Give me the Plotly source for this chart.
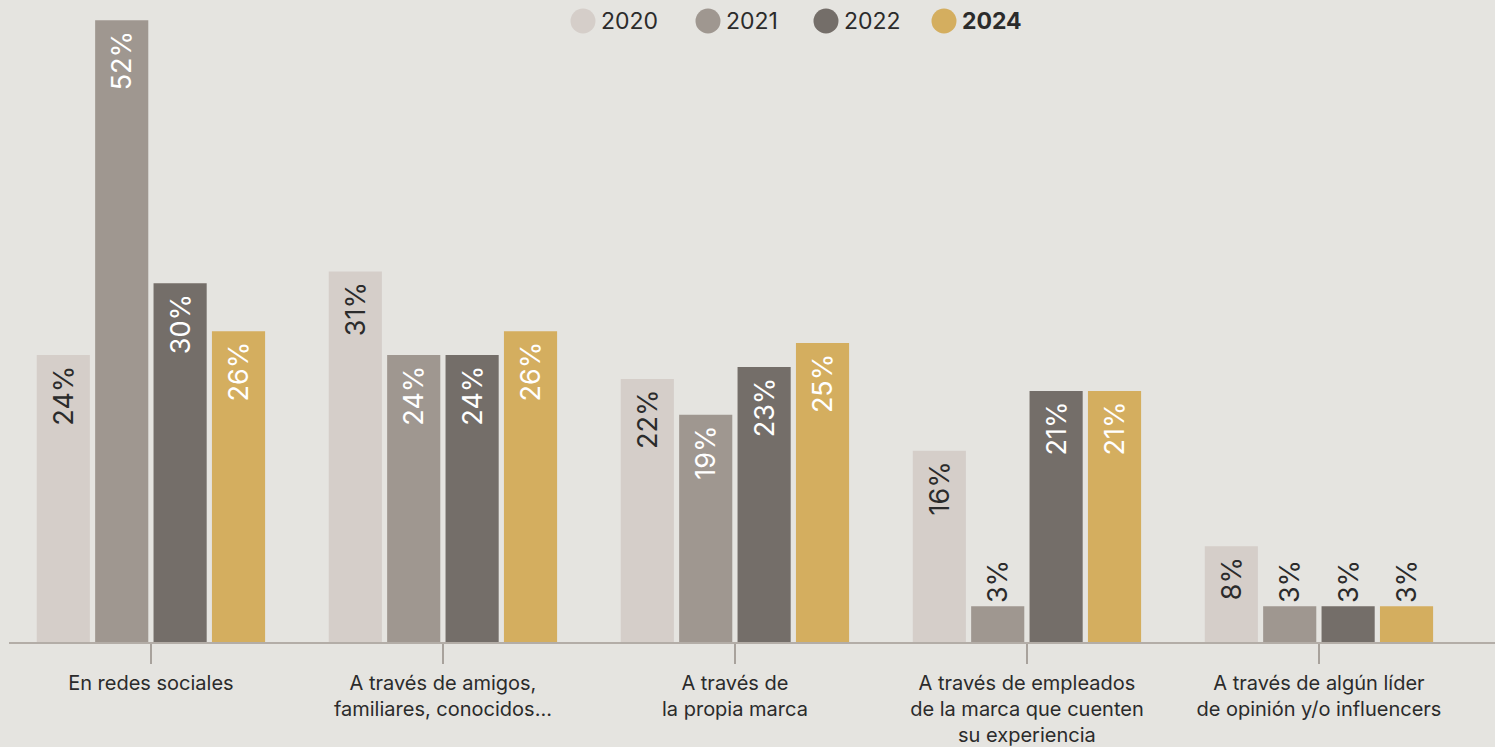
import plotly.graph_objects as go

# data
CATEGORIES = [
    "En redes sociales",
    "A través de amigos,<br>familiares, conocidos...",
    "A través de<br>la propia marca",
    "A través de empleados<br>de la marca que cuenten<br>su experiencia",
    "A través de algún líder<br>de opinión y/o influencers",
]
YEARS = ["2020", "2021", "2022", "2024"]
V2020 = [24, 31, 22, 16, 8]
V2021 = [52, 24, 19, 3, 3]
V2022 = [30, 24, 23, 21, 3]
V2024 = [26, 26, 25, 21, 3]

COLORS = ["#d5cec9", "#9f9790", "#746e69", "#d4ae5f"]
INSIDE_TEXT = ["#2b2b2b", "#ffffff", "#ffffff", "#ffffff"]
BG = "#e5e4e0"
FONT = "Inter"

W, H = 1495, 747
M_L, M_R, M_T, M_B = 9, 0, 0, 105

fig = go.Figure()

for year, vals, color, tcol in zip(YEARS, [V2020, V2021, V2022, V2024], COLORS, INSIDE_TEXT):
    inside = [v >= 5 for v in vals]
    fig.add_trace(go.Bar(
        x=CATEGORIES,
        y=vals,
        name=year,
        marker=dict(color=color, line=dict(width=0)),
        # a trailing space pads inside labels away from the bar top
        text=[f"{v}%\u00a0" if ins else f"{v}%" for v, ins in zip(vals, inside)],
        textposition=["inside" if ins else "outside" for ins in inside],
        textangle=-90,
        insidetextanchor="end",
        insidetextfont=dict(family=FONT, size=27, color=tcol),
        outsidetextfont=dict(family=FONT, size=27, color="#2b2b2b"),
        constraintext="none",
        cliponaxis=False,
        showlegend=False,
    ))

# custom legend with round swatches
plot_w = W - M_L - M_R
plot_h = H - M_T - M_B
legend_y = 1 - 21 / plot_h
swatch_x = [583, 708, 826, 944]
for year, color, sx in zip(YEARS, COLORS, swatch_x):
    px_ = (sx - M_L) / plot_w
    fig.add_shape(type="circle", xref="paper", yref="paper",
                  xsizemode="pixel", ysizemode="pixel",
                  xanchor=px_, yanchor=legend_y,
                  x0=-12.5, x1=12.5, y0=-12.5, y1=12.5,
                  fillcolor=color, line=dict(width=0), layer="above")
    label = f"<b>{year}</b>" if year == "2024" else year
    fig.add_annotation(xref="paper", yref="paper",
                       x=(sx + 16 - M_L) / plot_w, y=legend_y,
                       xanchor="left", yanchor="middle", showarrow=False,
                       text=label, font=dict(family=FONT, size=23, color="#2b2b2b"))

fig.update_layout(
    width=W, height=H,
    margin=dict(l=M_L, r=M_R, t=M_T, b=M_B),
    paper_bgcolor=BG, plot_bgcolor=BG,
    barmode="group", bargap=0.2, bargroupgap=0.09,
    font=dict(family=FONT, color="#2b2b2b"),
    xaxis=dict(
        range=[-0.486, 4.603],
        automargin=False,
        showgrid=False, zeroline=False,
        showline=True, linecolor="#b3ada7", linewidth=2,
        ticks="outside", ticklen=20, tickwidth=2, tickcolor="#a8a29c",
        ticklabelstandoff=2,
        tickfont=dict(family=FONT, size=20, color="#2b2b2b"),
    ),
    yaxis=dict(range=[0, 53.7], visible=False),
)

# drop the browser's default page margin so the chart sits at 0,0
fig.write_html("out.html", config={"displayModeBar": False},
               post_script="document.body.style.margin='0';document.body.style.overflow='hidden';")
